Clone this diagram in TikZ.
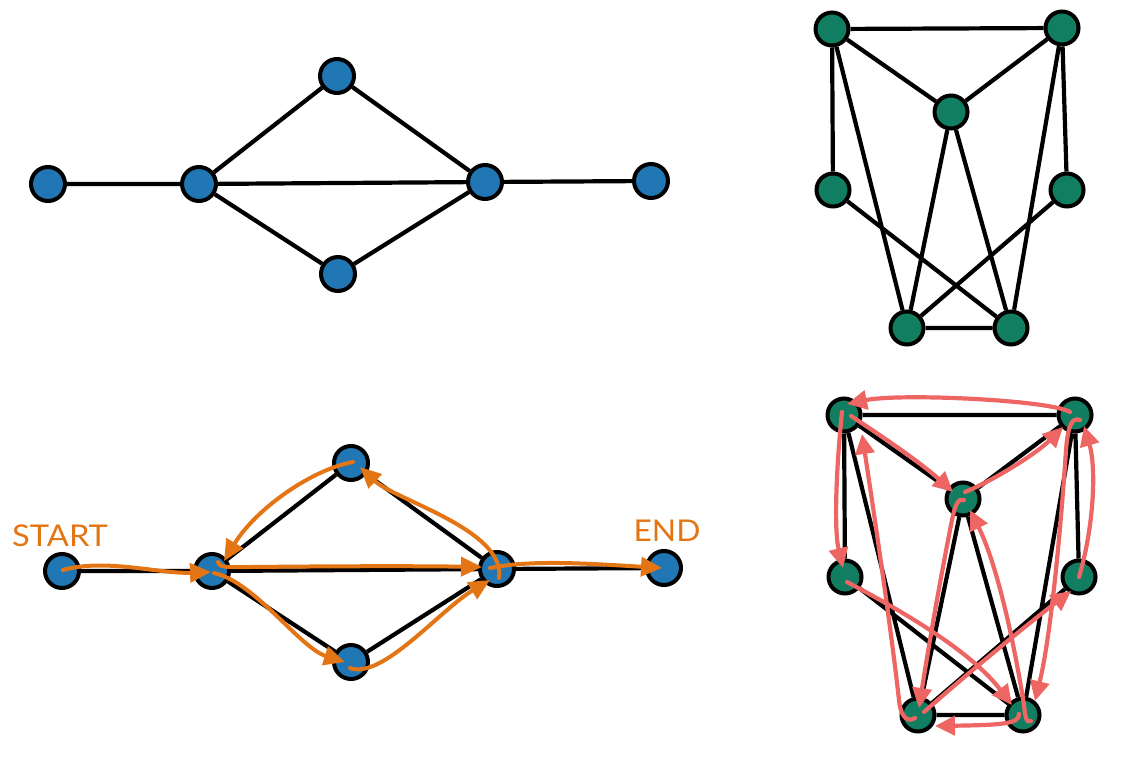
\documentclass[tikz,border=0pt]{standalone}
\usepackage{fontspec}
\usepackage{graphicx}
\setmainfont{Lato}
\usetikzlibrary{arrows.meta,backgrounds}
\definecolor{nblue}{RGB}{32,119,180}
\definecolor{ngreen}{RGB}{17,125,97}
\definecolor{porange}{RGB}{228,117,20}
\definecolor{pred}{RGB}{238,102,100}
\begin{document}
\begin{tikzpicture}[x=1pt,y=-1pt,
  bnode/.style={circle,draw=black,line width=4pt,fill=nblue,minimum size=34pt,inner sep=0pt},
  gnode/.style={circle,draw=black,line width=4pt,fill=ngreen,minimum size=33pt,inner sep=0pt},
  edge/.style={draw=black,line width=4.2pt},
  opath/.style={draw=porange,line width=4pt,line cap=round,-{Triangle[length=21pt,width=19pt]}},
  rpath/.style={draw=pred,line width=4.2pt,line cap=round,-{Triangle[length=20pt,width=19pt]}},
  lbl/.style={text=porange,font=\fontsize{30}{31}\selectfont,inner sep=0pt}]
\useasboundingbox (0,0) rectangle (1131,775);
% ---------- top-left ----------
\node[bnode] (a1) at (48,184) {};
\node[bnode] (b1) at (199,184) {};
\node[bnode] (c1) at (337,76) {};
\node[bnode] (d1) at (338,274) {};
\node[bnode] (e1) at (485,182) {};
\node[bnode] (f1) at (651,181) {};
% ---------- top-right ----------
\node[gnode] (tl1) at (832,29) {};
\node[gnode] (tr1) at (1062,28) {};
\node[gnode] (m1) at (951,112) {};
\node[gnode] (l1) at (833,190) {};
\node[gnode] (r1) at (1067,190) {};
\node[gnode] (bl1) at (907,328) {};
\node[gnode] (br1) at (1011,328) {};
% ---------- bottom-left ----------
\node[bnode] (a2) at (62,571) {};
\node[bnode] (b2) at (212,571) {};
\node[bnode] (c2) at (351,463) {};
\node[bnode] (d2) at (351,662) {};
\node[bnode] (e2) at (497,569) {};
\node[bnode] (f2) at (664,568) {};
\node[lbl] (start) at (60,536) {\scalebox{1.09}[1]{START}};
\node[lbl] (end) at (667,531) {\scalebox{1.06}[1]{END}};
% ---------- bottom-right ----------
\node[gnode] (tl2) at (844,415) {};
\node[gnode] (tr2) at (1075,415) {};
\node[gnode] (m2) at (963,499) {};
\node[gnode] (l2) at (845,577) {};
\node[gnode] (r2) at (1079,577) {};
\node[gnode] (bl2) at (918,715) {};
\node[gnode] (br2) at (1023,715) {};
\begin{scope}[on background layer]
  \foreach \s in {1,2}{
    \draw[edge] (a\s)--(b\s) (b\s)--(c\s) (b\s)--(d\s) (b\s)--(e\s) (c\s)--(e\s) (d\s)--(e\s) (e\s)--(f\s);
    \draw[edge] (tl\s)--(tr\s) (tl\s)--(m\s) (m\s)--(tr\s) (tl\s)--(l\s) (tl\s)--(bl\s)
      (tr\s)--(r\s) (tr\s)--(br\s) (m\s)--(bl\s) (m\s)--(br\s) (l\s)--(br\s) (r\s)--(bl\s) (bl\s)--(br\s);
  }
\end{scope}
% ---------- orange path ----------
\draw[opath] ([shift={(1,-1)}]a2.center) .. controls (105,558) and (160,574) .. ([shift={(-1,1)}]b2.center);
\draw[opath] ([shift={(2,2)}]b2.center) .. controls (255,582) and (300,648) .. ([shift={(-6,0)}]d2.center);
\draw[opath] ([shift={(-1,6)}]d2.center) .. controls (382,680) and (440,610) .. ([shift={(-7,11)}]e2.center);
\draw[opath] ([shift={(2,9)}]e2.center) .. controls (506,530) and (395,500) .. ([shift={(9,4)}]c2.center);
\draw[opath] ([shift={(2,-1)}]c2.center) .. controls (310,470) and (255,510) .. ([shift={(12,-10)}]b2.center);
\draw[opath] ([shift={(6,-9)}]b2.center) .. controls (219,568) and (228,567) .. (250,567) .. controls (350,566) and (420,566) .. ([shift={(-15,-2)}]e2.center);
\draw[opath] ([shift={(-7,-1)}]e2.center) .. controls (530,560) and (580,563) .. ([shift={(-2,0)}]f2.center);
% ---------- red circuit ----------
\draw[rpath] ([shift={(-5,-3)}]tr2.center) .. controls (1050,400) and (900,393) .. ([shift={(3,-11)}]tl2.center);
\draw[rpath] ([shift={(7,1)}]tl2.center) .. controls (880,435) and (920,462) .. ([shift={(-10,-7)}]m2.center);
\draw[rpath] ([shift={(2,-7)}]m2.center) .. controls (990,482) and (1035,455) .. ([shift={(-12,12)}]tr2.center);
\draw[rpath] ([shift={(-2,-3)}]tl2.center) .. controls (836,470) and (834,530) .. ([shift={(-2,-9)}]l2.center);
\draw[rpath] ([shift={(2,5)}]l2.center) .. controls (900,610) and (970,650) .. ([shift={(-11,-10)}]br2.center);
\draw[rpath] ([shift={(-3,3)}]bl2.center) .. controls (905,724) and (900,712) .. (899,700) .. controls (890,620) and (872,500) .. ([shift={(18,19)}]tl2.center);
\draw[rpath] ([shift={(1,1)}]m2.center) .. controls (958,498) and (955,505) .. (952,520) .. controls (940,580) and (928,650) .. ([shift={(1,-7)}]bl2.center);
\draw[rpath] ([shift={(6,-3)}]bl2.center) .. controls (960,680) and (1020,630) .. ([shift={(-8,14)}]r2.center);
\draw[rpath] (r2.center) .. controls (1093,530) and (1097,470) .. ([shift={(9,11)}]tr2.center);
\draw[rpath] ([shift={(5,5)}]tr2.center) .. controls (1072,417) and (1068,425) .. (1066,450) .. controls (1060,540) and (1050,640) .. ([shift={(12,-14)}]br2.center);
\draw[rpath] ([shift={(8,6)}]br2.center) .. controls (1026,724) and (1025,715) .. (1024,705) .. controls (1012,630) and (995,560) .. ([shift={(7,11)}]m2.center);
\draw[rpath] ([shift={(-4,-1)}]br2.center) .. controls (1020,724) and (1000,725) .. ([shift={(17,11)}]bl2.center);
\end{tikzpicture}
\end{document}
